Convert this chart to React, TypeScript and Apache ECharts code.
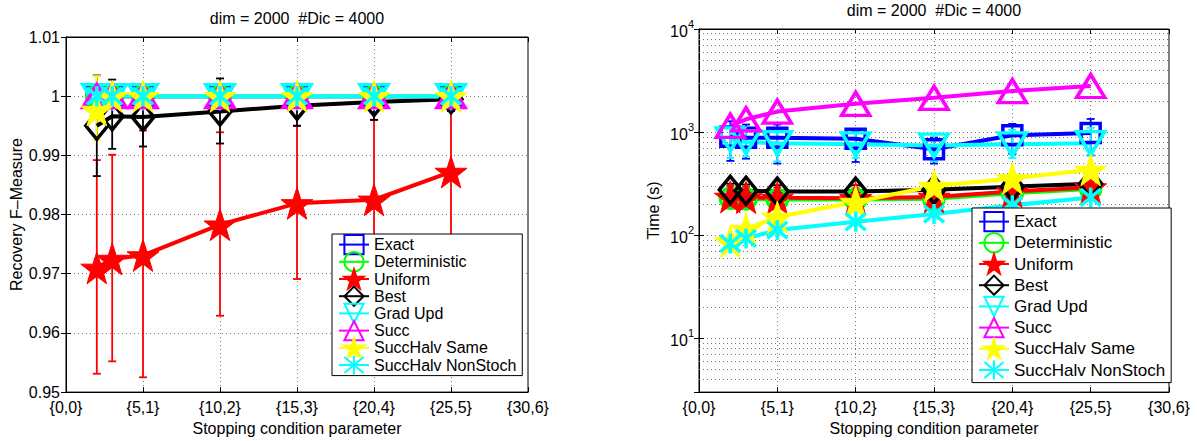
import React, { useEffect, useRef } from 'react';
import * as echarts from 'echarts';

// ---------- data ----------
const X = [2, 3, 5, 10, 15, 20, 25];
const NAMES = ['Exact', 'Deterministic', 'Uniform', 'Best', 'Grad Upd', 'Succ', 'SuccHalv Same', 'SuccHalv NonStoch'];
const TITLE = 'dim = 2000  #Dic = 4000';
const X_NAME = 'Stopping condition parameter';
const Y1_NAME = 'Recovery F\u2013Measure';
const Y2_NAME = 'Time (s)';
const MINOR_LOG_TICKS = [4, 5, 6, 7, 8, 9, 20, 30, 40, 50, 60, 70, 80, 90, 200, 300, 400, 500, 600, 700, 800, 900, 2000, 3000, 4000, 5000, 6000, 7000, 8000, 9000];

// F-measure panel
const fExact = [1, 1, 1, 1, 1, 1, 1];
const fDeterministic = [1, 1, 1, 1, 1, 1, 1];
const fUniform = [0.971, 0.9725, 0.9731, 0.9783, 0.9819, 0.9825, 0.9872];
const fUniformLo = [0.9531, 0.9552, 0.9525, 0.9629, 0.9691, 0.969, 0.9765];
const fUniformHi = [0.9892, 0.9901, 0.9942, 0.9939, 0.995, 0.996, 0.9975];
const fBest = [0.995, 0.9966, 0.9965, 0.9974, 0.9984, 0.999, 0.9995];
const fBestLo = [0.9865, 0.9911, 0.9915, 0.992, 0.995, 0.996, 0.9975];
const fBestHi = [1.0035, 1.0028, 1.0014, 1.003, 1.0021, 1.002, 1.0015];
const fGradUpd = [1, 1, 1, 1, 1, 1, 1];
const fSucc = [1, 1, 1, 1, 1, 1, 1];
const fSame = [0.9977, 1, 1, 1, 1, 1, 1];
const fSameLo = [0.9926, 1, 1, 1, 1, 1, 1];
const fSameHi = [1.0034, 1, 1, 1, 1, 1, 1];
const fNonStoch = [1, 1, 1, 1, 1, 1, 1];

// Time panel
const tExact = [900, 880, 880, 860, 680, 930, 980];
const tExactLo = [525, 552, 495, 513, 495, 615, 594];
const tExactHi = [1273, 1183, 1183, 1009, 885, 1200, 1340];
const tDeterministic = [228, 225, 222, 222, 225, 255, 280];
const tDeterministicLo = [190, 188, 185, 185, 188, 215, 240];
const tDeterministicHi = [270, 265, 262, 262, 265, 300, 325];
const tUniform = [235, 232, 230, 228, 235, 265, 290];
const tUniformLo = [185, 185, 180, 180, 185, 215, 240];
const tUniformHi = [300, 295, 290, 285, 290, 320, 345];
const tBest = [275, 270, 265, 265, 275, 295, 315];
const tBestLo = [235, 230, 225, 225, 235, 255, 275];
const tBestHi = [315, 310, 305, 305, 315, 335, 355];
const tGradUpd = [850, 800, 780, 760, 740, 760, 780];
const tGradUpdLo = [560, 580, 520, 560, 520, 560, 600];
const tGradUpdHi = [1150, 1100, 1100, 980, 960, 1050, 1100];
const tSucc = [1150, 1330, 1580, 1880, 2150, 2500, 2800];
const tSame = [87, 115, 150, 210, 300, 355, 430];
const tNonStoch = [83, 93, 112, 135, 160, 195, 232];

// ---------- styles ----------
const FONT = '"Liberation Sans", Arial, Helvetica, sans-serif';
const STAR = 'path://M50,0 L61.8,35.1 L98.1,35.1 L68.8,56.8 L79.4,91 L50,70 L20.6,91 L31.2,56.8 L1.9,35.1 L38.2,35.1 Z';
const ASTER = 'path://M1,1 L11,11 M11,1 L1,11 M6,0 L6,12';

type Sty = { color: string; symbol: string; size: any; rotate?: number; filled?: boolean };
const STYLES: Record<string, Sty> = {
  'Exact': { color: '#0000ff', symbol: 'rect', size: 19 },
  'Deterministic': { color: '#00ff00', symbol: 'circle', size: 20 },
  'Uniform': { color: '#ff0000', symbol: STAR, size: 32, filled: true },
  'Best': { color: '#000000', symbol: 'diamond', size: [22, 27] },
  'Grad Upd': { color: '#00ffff', symbol: 'triangle', size: [28, 23], rotate: 180 },
  'Succ': { color: '#ff00ff', symbol: 'triangle', size: [28, 23] },
  'SuccHalv Same': { color: '#ffff00', symbol: STAR, size: 32, filled: true },
  'SuccHalv NonStoch': { color: '#00ffff', symbol: ASTER, size: 20 },
};

function lineSeries(name: string, values: number[], xi: number, yi: number, extra: any = {}) {
  const s = STYLES[name];
  return {
    type: 'line',
    name,
    xAxisIndex: xi,
    yAxisIndex: yi,
    data: X.map((x, i) => [x, values[i]]),
    symbol: s.symbol,
    symbolSize: s.size,
    symbolRotate: s.rotate || 0,
    symbolKeepAspect: false,
    showAllSymbol: true,
    lineStyle: { color: s.color, width: 4 },
    itemStyle: s.filled
      ? { color: s.color, borderColor: s.color, borderWidth: 1 }
      : { color: 'rgba(0,0,0,0)', borderColor: s.color, borderWidth: 3.5 },
    emphasis: { disabled: true },
    clip: false,
    ...extra,
  };
}

function errSeries(name: string, lo: number[], hi: number[], xi: number, yi: number) {
  const color = STYLES[name].color;
  return {
    type: 'custom',
    name: name + ' error',
    xAxisIndex: xi,
    yAxisIndex: yi,
    data: X.map((x, i) => [x, lo[i], hi[i]]),
    encode: { x: 0, y: [1, 2] },
    silent: true,
    clip: false,
    renderItem: (_params: any, api: any) => {
      const x = api.value(0);
      const p1 = api.coord([x, api.value(2)]);
      const p2 = api.coord([x, api.value(1)]);
      const w = 4;
      const style = { stroke: color, lineWidth: 1.8, fill: 'none' };
      return {
        type: 'group',
        children: [
          { type: 'line', shape: { x1: p1[0], y1: p1[1], x2: p2[0], y2: p2[1] }, style },
          { type: 'line', shape: { x1: p1[0] - w, y1: p1[1], x2: p1[0] + w, y2: p1[1] }, style },
          { type: 'line', shape: { x1: p2[0] - w, y1: p2[1], x2: p2[0] + w, y2: p2[1] }, style },
        ],
      };
    },
  };
}

const dotted = { type: [1, 3], color: '#777', width: 1 };
const tickStyle = { inside: true, length: 5, lineStyle: { color: '#000', width: 1 } };
const axisLineStyle = { show: true, lineStyle: { color: '#000', width: 1 } };
const labelBase = { color: '#000', fontSize: 16, fontFamily: FONT };
const nameStyle = { color: '#000', fontSize: 16, fontFamily: FONT };

function xAxes(gridIndex: number) {
  return [
    {
      type: 'value', gridIndex, position: 'bottom', min: 0, max: 30, interval: 5,
      axisLine: axisLineStyle, axisTick: tickStyle,
      splitLine: { show: true, lineStyle: dotted },
      axisLabel: { ...labelBase, margin: 7, formatter: (v: number) => `{${v},${v / 5}}` },
      name: X_NAME, nameLocation: 'middle', nameGap: 21, nameTextStyle: nameStyle,
    },
    {
      type: 'value', gridIndex, position: 'top', min: 0, max: 30, interval: 5,
      axisLine: axisLineStyle, axisTick: tickStyle,
      splitLine: { show: false }, axisLabel: { show: false },
    },
  ];
}

export default function App() {
  const ref = useRef<HTMLDivElement>(null);
  useEffect(() => {
    if (!ref.current) return;
    const chart = echarts.init(ref.current, null, { renderer: 'svg' });
    const yLin = {
      type: 'value', min: 0.95, max: 1.01, interval: 0.01,
    };
    const yLog = { type: 'log', logBase: 10, min: 3, max: 10000 };
    const supFormatter = (v: number) => {
      const e = Math.round(Math.log10(v));
      if (Math.abs(v - Math.pow(10, e)) < 1e-6 * v) return `{b|10}{sup|${e}}`;
      return '';
    };
    const legendBase = {
      orient: 'vertical', data: NAMES, selectedMode: false,
      itemWidth: 30, itemHeight: 24,
      borderColor: '#000', borderWidth: 1, backgroundColor: '#fff', z: 20,
    };
    const option: any = {
      animation: false,
      backgroundColor: '#fff',
      graphic: [
        { type: 'text', x: 297, y: 18, style: { text: TITLE, align: 'center', verticalAlign: 'middle', fontSize: 16, fontFamily: FONT, fill: '#000' } },
        { type: 'text', x: 934, y: 10, style: { text: TITLE, align: 'center', verticalAlign: 'middle', fontSize: 16, fontFamily: FONT, fill: '#000' } },
      ],
      grid: [
        { left: 66, top: 37, width: 462, height: 364, show: true, borderColor: '#000', borderWidth: 1, backgroundColor: 'rgba(0,0,0,0)' },
        { left: 699, top: 29, width: 470, height: 372, show: true, borderColor: '#000', borderWidth: 1, backgroundColor: 'rgba(0,0,0,0)' },
      ],
      xAxis: [...xAxes(0), ...xAxes(1)],
      yAxis: [
        {
          ...yLin, gridIndex: 0, position: 'left',
          axisLine: axisLineStyle, axisTick: tickStyle,
          splitLine: { show: true, lineStyle: dotted },
          axisLabel: { ...labelBase, margin: 6, formatter: (v: number) => String(Math.round(v * 100) / 100) },
          name: Y1_NAME, nameLocation: 'middle', nameGap: 39, nameRotate: 90, nameTextStyle: nameStyle,
        },
        {
          ...yLin, gridIndex: 0, position: 'right',
          axisLine: axisLineStyle, axisTick: tickStyle, splitLine: { show: false }, axisLabel: { show: false },
        },
        {
          ...yLog, gridIndex: 1, position: 'left',
          axisLine: axisLineStyle, axisTick: tickStyle,
          splitLine: { show: true, lineStyle: dotted },
          axisLabel: {
            ...labelBase, margin: 5, formatter: supFormatter,
            rich: {
              b: { fontSize: 16, fontFamily: FONT, color: '#000', verticalAlign: 'bottom' },
              sup: { fontSize: 11, fontFamily: FONT, color: '#000', verticalAlign: 'top', padding: [0, 0, 10, 0] },
            },
          },
          name: Y2_NAME, nameLocation: 'middle', nameGap: 38, nameRotate: 90, nameTextStyle: nameStyle,
        },
        {
          ...yLog, gridIndex: 1, position: 'right',
          axisLine: axisLineStyle, axisTick: tickStyle, splitLine: { show: false }, axisLabel: { show: false },
        },
      ],
      legend: [
        {
          ...legendBase, left: 332, top: 234, itemGap: -4, padding: [0, 6, 0, 6],
          textStyle: { fontSize: 16, color: '#000', fontFamily: FONT },
        },
        {
          ...legendBase, left: 972, top: 208, itemGap: 0, padding: [3, 6, 2, 6],
          textStyle: { fontSize: 17, color: '#000', fontFamily: FONT },
        },
      ],
      series: [
        // left panel
        lineSeries('Exact', fExact, 0, 0),
        lineSeries('Deterministic', fDeterministic, 0, 0),
        lineSeries('Uniform', fUniform, 0, 0),
        errSeries('Uniform', fUniformLo, fUniformHi, 0, 0),
        lineSeries('Best', fBest, 0, 0),
        errSeries('Best', fBestLo, fBestHi, 0, 0),
        lineSeries('Grad Upd', fGradUpd, 0, 0),
        lineSeries('Succ', fSucc, 0, 0),
        lineSeries('SuccHalv Same', fSame, 0, 0),
        errSeries('SuccHalv Same', fSameLo, fSameHi, 0, 0),
        lineSeries('SuccHalv NonStoch', fNonStoch, 0, 0),
        // right panel
        lineSeries('Exact', tExact, 2, 2, {
          markLine: {
            silent: true, symbol: ['none', 'none'], label: { show: false }, z: 1,
            lineStyle: { type: [1, 3], color: '#777', width: 1 },
            emphasis: { disabled: true },
            data: MINOR_LOG_TICKS.map((v) => ({ yAxis: v })),
          },
        }),
        errSeries('Exact', tExactLo, tExactHi, 2, 2),
        lineSeries('Deterministic', tDeterministic, 2, 2),
        errSeries('Deterministic', tDeterministicLo, tDeterministicHi, 2, 2),
        lineSeries('Uniform', tUniform, 2, 2),
        errSeries('Uniform', tUniformLo, tUniformHi, 2, 2),
        lineSeries('Best', tBest, 2, 2),
        errSeries('Best', tBestLo, tBestHi, 2, 2),
        lineSeries('Grad Upd', tGradUpd, 2, 2),
        errSeries('Grad Upd', tGradUpdLo, tGradUpdHi, 2, 2),
        lineSeries('Succ', tSucc, 2, 2),
        lineSeries('SuccHalv Same', tSame, 2, 2),
        lineSeries('SuccHalv NonStoch', tNonStoch, 2, 2),
      ],
    };
    chart.setOption(option);
    return () => chart.dispose();
  }, []);
  return (
    <div
      ref={ref}
      style={{ position: 'fixed', left: 0, top: 0, width: 1197, height: 441, background: '#fff' }}
    />
  );
}
